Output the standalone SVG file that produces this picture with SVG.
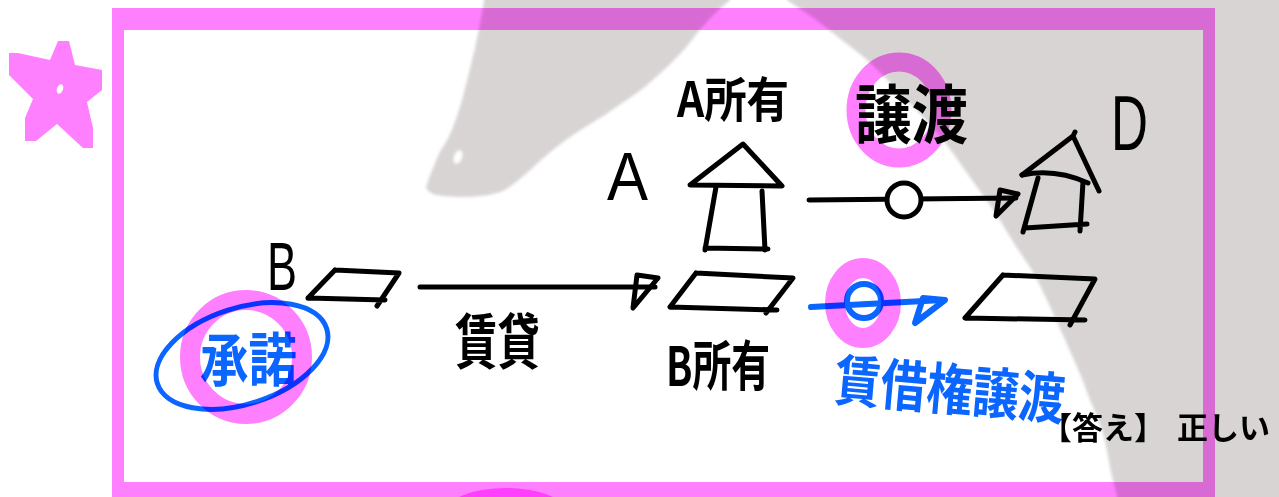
<svg xmlns="http://www.w3.org/2000/svg" width="1279" height="497" viewBox="0 0 1279 497">
<style>
.pen{fill:none;stroke:#000;stroke-width:5;stroke-linecap:round;stroke-linejoin:round}
.bpen{fill:none;stroke:#0a66ff;stroke-width:6;stroke-linecap:round;stroke-linejoin:round}
.hw{font-family:"Noto Sans CJK JP","Noto Sans CJK SC",sans-serif;fill:#000;font-weight:bold}
.hwb{font-family:"Noto Sans CJK JP","Noto Sans CJK SC",sans-serif;fill:#0a66ff;font-weight:bold}
.lat{font-family:"Liberation Sans",Arial,sans-serif;fill:#000}
.hl{mix-blend-mode:multiply}
.ring{fill:none;stroke:#ff80ff;mix-blend-mode:multiply}
.gray{fill:#d8d4d4}
</style>
<defs>
<filter id="soft" x="-5%" y="-5%" width="110%" height="110%"><feGaussianBlur stdDeviation="1.5"/></filter>
</defs>
<rect width="1279" height="497" fill="#fff"/>
<g id="background" filter="url(#soft)">
<path class="gray" d="M484,-10 L484,0 C480,30 470,70 462,100 C455,125 448,140 441,150 C436,160 430,175 426,187 C428,195 440,197 469,197 C485,196 495,194 505,190 C520,180 530,170 541,160 C555,148 565,140 576,133 C590,124 598,119 605,115 C615,108 620,104 627,100 C645,88 655,78 667,67 C680,55 690,43 697,33 C708,20 720,8 730,0 L730,-10 Z"/>
<path class="gray" d="M787,-10 L787,0 C805,12 820,22 833,33 C845,43 856,50 867,60 C880,72 890,82 900,93 C912,106 925,118 935,130 C946,143 955,156 965,170 C974,183 982,194 990,205 C998,217 1005,228 1012,240 C1018,250 1024,258 1030,267 C1037,278 1042,290 1047,300 C1052,311 1057,322 1062,333 C1067,344 1072,355 1077,367 C1082,378 1086,389 1090,400 C1095,411 1099,422 1103,433 C1106,444 1108,455 1110,467 C1112,477 1115,487 1117,497 L1117,507 L1290,507 L1290,-10 Z"/>
<ellipse cx="458" cy="157" rx="4" ry="7" transform="rotate(20 458 157)" fill="#fff"/>
</g>
<g id="node-A-house">
<path class="pen" d="M690,185 L743,144 L782,186 Z"/>
<path class="pen" d="M716,187 L705,250 M762,191 L765,250 M705,248 L768,249"/>
<text class="lat" x="607" y="200" font-size="68" textLength="41" lengthAdjust="spacingAndGlyphs">A</text>
<text class="hw" x="677" y="117" font-size="48" textLength="112" lengthAdjust="spacingAndGlyphs">A所有</text>
</g>
<g id="node-D-house">
<path class="pen" d="M1022,175 L1073,136 L1099,191 M1073,136 L1075,132"/>
<path class="pen" d="M1022,175 Q1055,168 1088,183"/>
<path class="pen" d="M1038,178 L1023,232 M1083,182 L1080,231 M1025,228 L1087,224"/>
<text class="lat" x="1111" y="150" font-size="78" textLength="37" lengthAdjust="spacingAndGlyphs">D</text>
</g>
<g id="node-B-land">
<path class="pen" d="M335,270 L399,273 L377,306 M308,298 L335,270 M308,298 L385,300"/>
<text class="lat" x="267" y="290" font-size="68" textLength="30" lengthAdjust="spacingAndGlyphs">B</text>
<text class="hwb" x="200" y="381" font-size="58" textLength="97" lengthAdjust="spacingAndGlyphs">承諾</text>
<ellipse class="bpen" cx="242" cy="356" rx="89" ry="48" transform="rotate(-18 242 356)" style="stroke-width:5"/>
</g>
<g id="node-B-owned">
<path class="pen" d="M696,273 L793,278 L766,313 M670,307 L696,273 M670,307 L777,310"/>
<text class="hw" x="666" y="386" font-size="54" textLength="104" lengthAdjust="spacingAndGlyphs">B所有</text>
</g>
<g id="node-D-land">
<path class="pen" d="M1003,275 L1095,279 L1070,325 M965,318 L1003,275 M965,318 L1085,320"/>
</g>
<g id="connectors">
<g id="edge-transfer">
<path class="pen" d="M809,200 L1016,198"/>
<path class="pen" d="M1000,190 L1018,194 L996,216 Z"/>
<circle class="pen" cx="904" cy="200" r="17" style="fill:#fff"/>
<text class="hw" x="855" y="138" font-size="64" textLength="113" lengthAdjust="spacingAndGlyphs">譲渡</text>
</g>
<g id="edge-lease">
<path class="pen" d="M420,287 L655,287"/>
<path class="pen" d="M637,275 L658,278 L633,308 Z"/>
<text class="hw" x="455" y="364" font-size="60" textLength="85" lengthAdjust="spacingAndGlyphs">賃貸</text>
</g>
<g id="edge-lease-transfer">
<path class="bpen" d="M811,307 L943,300"/>
<path class="bpen" d="M923,298 L945,300 L915,323 Z"/>
<circle class="bpen" cx="864" cy="301" r="17"/>
<text class="hwb" x="833" y="400" font-size="56" textLength="231" lengthAdjust="spacingAndGlyphs" transform="rotate(5 833 400)">賃借権譲渡</text>
</g>
</g>
<g id="answer">
<text x="1041" y="439" font-family="'Noto Sans CJK JP',sans-serif" font-size="31" font-weight="bold" fill="#000">【答え】<tspan x="1177">正しい</tspan></text>
</g>
<g id="highlights">
<path class="hl" fill="#ff80ff" fill-rule="evenodd" d="M112,8 H1215 V510 H112 Z M124,30 V482 H1203 V30 Z"/>
<ellipse class="hl" cx="506" cy="512" rx="60" ry="24" fill="#ff80ff"/>
<path class="hl" fill="#ff80ff" d="M58,41 L69,41 L75,65 L102,70 L102,90 L87,102 L93,128 L93,148 L83,148 L57,124 L36,141 L25,141 L25,118 L33,99 L9,75 L9,53 L18,53 L50,60 Z"/>
<ellipse cx="60" cy="89" rx="3" ry="5" transform="rotate(20 60 89)" fill="#fff"/>
<ellipse class="ring" cx="899" cy="110" rx="43" ry="48" stroke-width="19"/>
<ellipse class="ring" cx="246" cy="357" rx="56" ry="57" stroke-width="20"/>
<ellipse class="ring" cx="863" cy="303" rx="28" ry="35" stroke-width="20"/>
</g>
</svg>
